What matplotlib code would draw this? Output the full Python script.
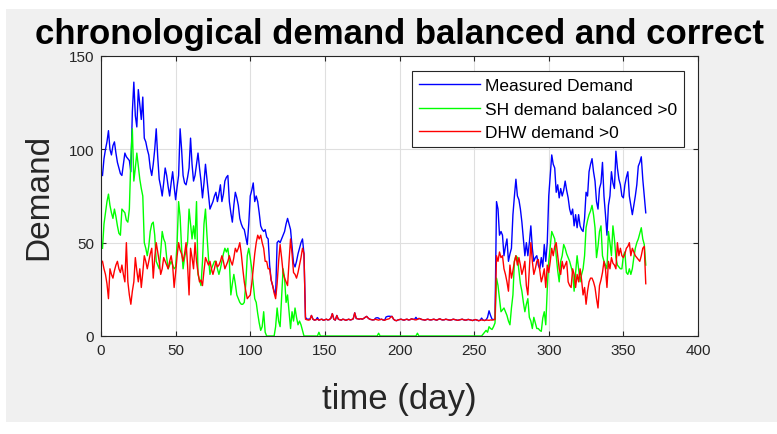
import numpy as np
import matplotlib
matplotlib.use('Agg')
import matplotlib.pyplot as plt
from matplotlib.patches import Rectangle

plt.rc('font', family=['Liberation Sans', 'DejaVu Sans'])
plt.rc('axes', edgecolor='#262626', linewidth=0.8)

# daily demand values, one entry per day of the year
measured_demand = [
    86, 95, 100, 104, 110, 100, 97, 102, 104, 98,
    93, 90, 87, 86, 92, 98, 96, 95, 94, 88,
    120, 136, 118, 112, 132, 124, 116, 128, 106, 104,
    100, 97, 90, 86, 92, 100, 111, 96, 84, 80,
    75, 82, 90, 86, 80, 75, 82, 88, 80, 73,
    80, 86, 111, 100, 86, 82, 81, 85, 90, 106,
    92, 83, 86, 92, 98, 90, 83, 74, 82, 92,
    84, 76, 68, 70, 72, 75, 77, 72, 76, 81,
    72, 76, 83, 85, 86, 72, 66, 61, 70, 77,
    74, 70, 63, 60, 58, 57, 53, 49, 60, 75,
    78, 82, 72, 75, 72, 66, 59, 57, 56, 57,
    53, 52, 38, 30, 27, 24, 22, 50, 51, 50,
    52, 54, 56, 60, 63, 60, 57, 48, 39, 37,
    40, 44, 47, 50, 52, 44, 10, 9, 9, 9,
    11, 9, 8.5, 8.7, 9.9, 8.5, 8.8, 9, 8.4, 8.7,
    9, 8.6, 8.8, 9.5, 12, 9, 8.5, 11, 9, 8.7,
    8.5, 9, 8.8, 8.4, 8.7, 9, 8.6, 8.8, 9.2, 12.4,
    9.4, 9.2, 9, 9.3, 9, 9.4, 10, 10.5, 9.6, 9,
    8.8, 8.6, 8.7, 9.6, 9.8, 9.6, 8.8, 9, 8.6, 8.4,
    10.2, 10.5, 10.6, 10.5, 10.5, 9, 8.4, 8.2, 8.6, 8.8,
    9, 8.7, 8.5, 8.8, 9, 8.6, 8.7, 9.2, 9, 8.8,
    10, 8.9, 9.4, 9.2, 8.8, 8.7, 8.5, 8.8, 9, 8.7,
    8.6, 8.8, 9, 8.7, 8.5, 8.9, 9.2, 8.8, 8.6, 8.7,
    9, 8.8, 8.6, 8.5, 8.7, 9, 8.8, 8.6, 8.4, 8.6,
    8.8, 9, 8.7, 8.5, 8.6, 8.9, 8.7, 8.5, 8.3, 8.6,
    8.8, 8.5, 8.2, 8.4, 9.6, 8.5, 8.3, 8.6, 10, 13.5,
    11, 9, 8.8, 9, 72, 68, 54, 56, 54, 43,
    48, 52, 40, 44, 47, 65, 75, 84, 75, 73,
    68, 61, 52, 43, 50, 43, 50, 59, 47, 40,
    42, 43, 38, 36, 42, 37, 49, 40, 50, 75,
    86, 97, 92, 90, 77, 81, 74, 79, 75, 78,
    83, 78, 74, 68, 65, 68, 59, 65, 58, 65,
    59, 57, 56, 63, 77, 75, 88, 92, 95, 88,
    83, 72, 68, 79, 82, 93, 75, 65, 54, 70,
    75, 88, 82, 79, 99, 90, 84, 81, 75, 74,
    81, 85, 88, 75, 70, 65, 70, 75, 81, 91,
    93, 96, 84, 75, 66,
]

sh_demand = [
    47, 60, 66, 72, 76, 70, 66, 63, 68, 64,
    59, 55, 54, 68, 67, 66, 62, 61, 68, 95,
    111, 83, 90, 98, 91, 84, 79, 75, 50, 47,
    43, 48, 56, 60, 61, 54, 40, 38, 36, 45,
    56, 52, 50, 42, 36, 38, 40, 38, 36, 37,
    50, 72, 64, 47, 36, 42, 46, 50, 68, 60,
    52, 59, 52, 72, 33, 30, 27, 40, 60, 68,
    54, 42, 33, 36, 38, 40, 40, 36, 33, 36,
    40, 44, 47, 45, 47, 40, 22, 28, 33, 28,
    22, 20, 18, 17, 17, 18, 28, 43, 47, 42,
    36, 28, 20, 18, 12, 7, 3, 5, 13, 2,
    0, 0, 0, 0, 0, 0, 5, 15, 8, 5,
    20, 36, 31, 18, 22, 13, 4, 13, 8, 15,
    10, 6, 8, 6, 3, 0, 0, 0, 0, 0,
    0, 0, 0, 0, 0, 2, 0, 0, 0, 0,
    0, 0, 0, 0, 0, 0, 0, 0, 0, 0,
    0, 0, 0, 0, 0, 0, 0, 0, 0, 0,
    0, 0, 0, 0, 0, 0, 0, 0, 0, 0,
    0, 0, 0, 0, 0, 1.5, 0, 0, 0, 0,
    0, 0, 0, 0, 0, 0, 0, 0, 0, 0,
    0, 0, 0, 0, 0, 0, 0, 0, 0, 0,
    0, 1.5, 0, 0, 0, 0, 0, 0, 0, 0,
    0, 0, 0, 0, 0, 0, 0, 0, 0, 0,
    0, 0, 0, 0, 0, 0, 0, 0, 0, 0,
    0, 0, 0, 0, 0, 0, 0, 0, 0, 0,
    0, 0, 0, 0, 0, 1, 2, 3, 2, 5,
    4, 3.5, 5, 7, 31, 27, 20, 13, 14, 15,
    13, 11, 8, 6, 15, 22, 40, 43, 42, 35,
    28, 24, 18, 13, 17, 20, 10, 8, 4, 10,
    7, 4, 4, 3, 2.5, 9.6, 13, 6, 25, 40,
    48, 56, 54, 52, 43, 35, 29, 40, 43, 49,
    47, 44, 42, 40, 37, 34, 24, 34, 43, 36,
    29, 33, 36, 43, 58, 62, 65, 67, 70, 65,
    58, 42, 48, 56, 59, 43, 40, 38, 36, 56,
    50, 43, 59, 52, 42, 38, 37, 36, 36, 43,
    45, 34, 33, 36, 33, 36, 42, 47, 50, 52,
    55, 58, 52, 49, 38,
]

dhw_demand = [
    40, 36, 33, 28, 20, 36, 33, 31, 35, 38,
    40, 36, 34, 38, 33, 29, 50, 29, 22, 17,
    24, 29, 42, 35, 29, 36, 26, 34, 43, 40,
    36, 40, 44, 47, 31, 42, 50, 45, 40, 33,
    36, 42, 40, 38, 36, 40, 43, 38, 26, 34,
    43, 50, 46, 44, 40, 44, 50, 38, 22, 47,
    42, 36, 50, 40, 34, 29, 30, 27, 35, 42,
    40, 38, 40, 36, 33, 36, 40, 37, 38, 40,
    43, 40, 36, 38, 40, 43, 40, 38, 42, 47,
    45, 47, 50, 44, 36, 29, 24, 20, 21, 22,
    28, 36, 44, 50, 54, 52, 54, 50, 47, 40,
    40, 36, 36, 30, 27, 23, 20, 28, 40, 49,
    42, 34, 31, 29, 27, 40, 52, 44, 34, 33,
    31, 34, 38, 42, 47, 44, 9, 8.7, 8.5, 8.7,
    11, 9, 8.5, 8.7, 9, 8.5, 8.8, 9, 8.4, 8.7,
    9, 8.6, 8.8, 9.5, 12, 9, 8.5, 11, 9, 8.7,
    8.5, 9, 8.8, 8.4, 8.7, 9, 8.6, 8.8, 9.2, 12.4,
    9.4, 9.2, 9, 9.3, 9, 9.4, 10, 10.5, 9.6, 9,
    8.8, 8.6, 8.7, 9, 8.7, 8.5, 8.8, 9, 8.6, 8.4,
    8.8, 9, 9.2, 10, 10.5, 9, 8.4, 8.2, 8.6, 8.8,
    9, 8.7, 8.5, 8.8, 9, 8.6, 8.7, 9.2, 9, 8.8,
    8.6, 8.9, 9.4, 9.2, 8.8, 8.7, 8.5, 8.8, 9, 8.7,
    8.6, 8.8, 9, 8.7, 8.5, 8.9, 9.2, 8.8, 8.6, 8.7,
    9, 8.8, 8.6, 8.5, 8.7, 9, 8.8, 8.6, 8.4, 8.6,
    8.8, 9, 8.7, 8.5, 8.6, 8.9, 8.7, 8.5, 8.3, 8.6,
    8.8, 8.5, 8.2, 8.4, 8.6, 8.5, 8.3, 8.6, 8.5, 8.4,
    8.6, 8.5, 8.7, 8.8, 43, 40, 45, 42, 43, 36,
    33, 29, 24, 38, 31, 35, 40, 43, 38, 42,
    38, 33, 36, 40, 27, 22, 36, 50, 40, 33,
    36, 40, 41, 35, 29, 32, 36, 26, 38, 34,
    40, 47, 43, 48, 50, 43, 36, 33, 40, 36,
    38, 40, 29, 27, 26, 36, 33, 26, 33, 29,
    36, 30, 22, 26, 17, 24, 29, 31, 31, 29,
    26, 20, 15, 27, 30, 34, 40, 36, 26, 40,
    36, 42, 39, 38, 36, 50, 43, 47, 43, 42,
    44, 47, 48, 50, 43, 47, 45, 43, 42, 41,
    40, 43, 47, 48, 28,
]

series_labels = ['Measured Demand', 'SH demand balanced >0', 'DHW demand >0']
series_colors = ['#0000ff', '#00ff00', '#ff0000']

days = np.arange(1, len(measured_demand) + 1)

fig = plt.figure(figsize=(7.77, 4.35), dpi=100, facecolor='white')
# grey figure panel
fig.patches.append(Rectangle((6 / 777, 1 - 423 / 435), 1 - 6 / 777, 413 / 435,
                             transform=fig.transFigure, facecolor='#f0f0f0',
                             edgecolor='none', zorder=-10))

ax = fig.add_axes([101 / 777, 1 - 337 / 435, 597 / 777, 280 / 435])
ax.set_facecolor('white')

for values, label, color in zip([measured_demand, sh_demand, dhw_demand],
                                series_labels, series_colors):
    ax.plot(days, values, color=color, linewidth=1.0, label=label)

ax.set_xlim(0, 400)
ax.set_ylim(0, 150)
ax.set_xticks(np.arange(0, 401, 50))
ax.set_yticks(np.arange(0, 151, 50))
ax.grid(True, color='#dfdfdf', linewidth=0.8)
ax.set_axisbelow(True)
ax.tick_params(direction='in', length=3.5, width=0.8, top=True, right=True,
               labelsize=11, labelcolor='#262626', color='#262626', pad=5)

ax.set_title('chronological demand balanced and correct', fontsize=25,
             fontweight='bold', pad=9)
ax.set_xlabel('time (day)', fontsize=25, color='#262626', labelpad=18)
ax.set_ylabel('Demand', fontsize=24, color='#262626', labelpad=10)

leg = ax.legend(loc='upper right', bbox_to_anchor=(0.9766, 0.9475),
                borderaxespad=0, fontsize=12.5, handlelength=3.5,
                handletextpad=0.3, labelspacing=0.5, borderpad=0.4,
                fancybox=False, framealpha=1, edgecolor='#262626')
leg.get_frame().set_linewidth(0.8)

fig.savefig('out.png', dpi=100, facecolor=fig.get_facecolor())
